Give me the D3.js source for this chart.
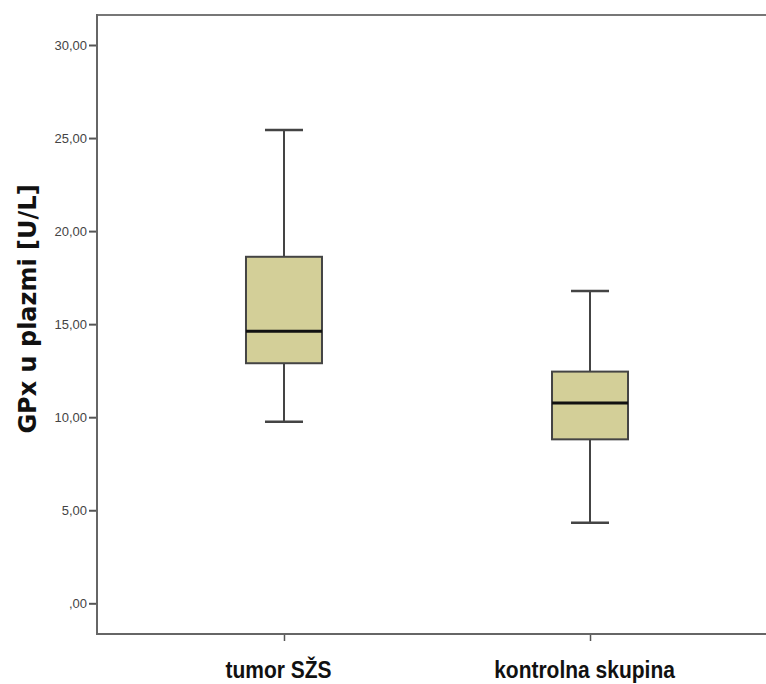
<!DOCTYPE html>
<html><head><meta charset="utf-8">
<script src="https://cdn.jsdelivr.net/npm/d3@7"></script>
<style>body{margin:0;background:#fff}</style>
</head><body>
<svg id="c" width="766" height="684"></svg>
<script>
const categories = ["tumor SŽS", "kontrolna skupina"];
const whiskerLow = [9.76, 4.33];
const q1 = [12.90, 8.81];
const median = [14.62, 10.76];
const q3 = [18.62, 12.45];
const whiskerHigh = [25.43, 16.78];
const yTicks = [0, 5, 10, 15, 20, 25, 30];
const yLabel = "GPx u plazmi [U/L]";

const svg = d3.select("#c");
const L = 97, R = 777, T = 15, B = 634;
const y = d3.scaleLinear().domain([0, 30]).range([603.3, 45]);
const x = d3.scalePoint().domain(categories).range([L, R]).padding(0.611);

const fmt = v => v === 0 ? ",00" : d3.format(".2f")(v).replace(".", ",");

// frame
svg.append("line").attr("x1", L).attr("x2", 766).attr("y1", T).attr("y2", T)
  .attr("stroke", "#777").attr("stroke-width", 2);

const yAxis = svg.append("g").attr("transform", `translate(${L},0)`)
  .call(d3.axisLeft(y).tickValues(yTicks).tickFormat(fmt).tickSize(8).tickSizeOuter(0));
yAxis.select(".domain").remove();
yAxis.append("line").attr("x1", 0).attr("x2", 0).attr("y1", T - 1).attr("y2", B + 1)
  .attr("stroke", "#666").attr("stroke-width", 2);
yAxis.selectAll(".tick line").attr("stroke", "#555").attr("stroke-width", 2);
yAxis.selectAll(".tick text").attr("fill", "#444").attr("font-family", "Liberation Sans, Arial, sans-serif")
  .attr("font-size", 13).attr("x", -10);

const xAxis = svg.append("g").attr("transform", `translate(0,${B})`)
  .call(d3.axisBottom(x).tickSize(7).tickSizeOuter(0));
xAxis.select(".domain").remove();
xAxis.append("line").attr("x1", L - 1).attr("x2", 766).attr("y1", 0).attr("y2", 0)
  .attr("stroke", "#666").attr("stroke-width", 2);
xAxis.selectAll(".tick line").attr("stroke", "#555").attr("stroke-width", 1.5);
xAxis.selectAll(".tick text").attr("fill", "#111").attr("font-family", "Liberation Sans, Arial, sans-serif")
  .attr("font-weight", "bold").attr("font-size", 21).attr("y", 0).attr("dx", -6).attr("dy", 0)
  .attr("transform", "translate(0,44) scale(1,1.12)");

svg.append("text").attr("transform", `translate(36,309) rotate(-90)`)
  .attr("text-anchor", "middle").attr("font-family", "DejaVu Sans, Verdana, sans-serif")
  .attr("font-weight", "bold").attr("font-size", 24).attr("fill", "#111").text(yLabel);

const boxW = 76, capW = 38;
const g = svg.append("g");
categories.forEach((c, i) => {
  const cx = x(c);
  const bg = g.append("g");
  bg.append("line").attr("x1", cx).attr("x2", cx).attr("y1", y(whiskerHigh[i])).attr("y2", y(q3[i]))
    .attr("stroke", "#444").attr("stroke-width", 2);
  bg.append("line").attr("x1", cx).attr("x2", cx).attr("y1", y(q1[i])).attr("y2", y(whiskerLow[i]))
    .attr("stroke", "#444").attr("stroke-width", 2);
  [whiskerHigh[i], whiskerLow[i]].forEach(v => {
    bg.append("line").attr("x1", cx - capW / 2).attr("x2", cx + capW / 2).attr("y1", y(v)).attr("y2", y(v))
      .attr("stroke", "#444").attr("stroke-width", 2.5);
  });
  bg.append("rect").attr("x", cx - boxW / 2).attr("width", boxW)
    .attr("y", y(q3[i])).attr("height", y(q1[i]) - y(q3[i]))
    .attr("fill", "#d3cf98").attr("stroke", "#444").attr("stroke-width", 2);
  bg.append("line").attr("x1", cx - boxW / 2).attr("x2", cx + boxW / 2).attr("y1", y(median[i])).attr("y2", y(median[i]))
    .attr("stroke", "#111").attr("stroke-width", 3);
});
</script>
</body></html>
